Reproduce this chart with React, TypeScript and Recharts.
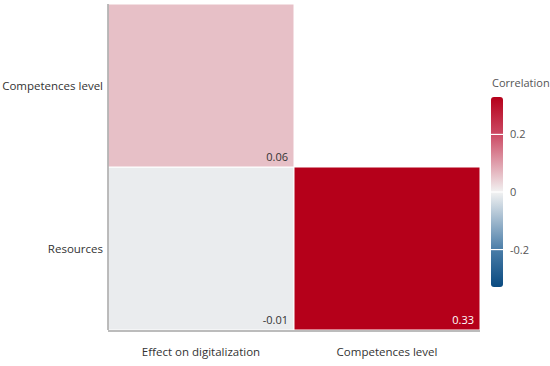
import React from 'react';
import { BarChart, Bar, XAxis, YAxis, Cell, LabelList } from 'recharts';

// Columns (x categories) and rows (y categories, bottom to top)
const columns = ['Effect on digitalization', 'Competences level'];
const rows = ['Resources', 'Competences level'];
// Correlation values for each row, by column (null = empty cell)
const resourcesCorr: (number | null)[] = [-0.01, 0.33];
const competencesCorr: (number | null)[] = [0.06, null];
// Colour bar
const colorDomain = [-0.33, 0.33];
const colorTicks = [0.2, 0, -0.2];
const colorStops: [number, string][] = [
  [-0.33, '#0a4a80'],
  [-0.2, '#4a7da8'],
  [0, '#f2f2f2'],
  [0.2, '#cc4a64'],
  [0.33, '#b5001a'],
];

const W = 550;
const H = 366;
const FONT = '"Open Sans", "Noto Sans", sans-serif';
const FS = 11.5;

function hexToRgb(h: string) {
  const n = parseInt(h.slice(1), 16);
  return [(n >> 16) & 255, (n >> 8) & 255, n & 255];
}
function colorFor(v: number) {
  if (v <= colorStops[0][0]) return colorStops[0][1];
  for (let i = 1; i < colorStops.length; i++) {
    const [v1, c1] = colorStops[i];
    const [v0, c0] = colorStops[i - 1];
    if (v <= v1) {
      const t = (v - v0) / (v1 - v0);
      const a = hexToRgb(c0);
      const b = hexToRgb(c1);
      const m = a.map((x, k) => Math.round(x + (b[k] - x) * t));
      return `rgb(${m[0]},${m[1]},${m[2]})`;
    }
  }
  return colorStops[colorStops.length - 1][1];
}

const data = columns.map((c, i) => ({
  name: c,
  resources: resourcesCorr[i] == null ? null : 1,
  competences: competencesCorr[i] == null ? null : 1,
  rCorr: resourcesCorr[i],
  cCorr: competencesCorr[i],
}));

const CellLabel = (props: any) => {
  const { x, y, width, height, value } = props;
  if (value == null) return null;
  return (
    <text
      x={x + width - 6}
      y={y + height - 6}
      textAnchor="end"
      fontSize={11}
      fontFamily={FONT}
      fill={value > 0.25 ? '#ffffff' : '#333333'}
    >
      {value.toFixed(2)}
    </text>
  );
};

const YTick = (props: any) => {
  const { x, y, payload } = props;
  return (
    <text x={x} y={y} dy="0.355em" textAnchor="end" fontSize={FS} fontFamily={FONT} fill="#333">
      {rows[Math.floor(payload.value)]}
    </text>
  );
};

// colour bar geometry
const cbX = 491;
const cbW = 12;
const cbTop = 97;
const cbBottom = 287;
const cbY = (v: number) =>
  cbTop + ((colorDomain[1] - v) / (colorDomain[1] - colorDomain[0])) * (cbBottom - cbTop);

export default function App() {
  return (
    <div style={{ position: 'absolute', left: 0, top: 0, width: W, height: H, background: '#fff' }}>
      <BarChart
        width={W}
        height={H}
        data={data}
        margin={{ top: 4, right: 70, bottom: 0, left: 0 }}
        barCategoryGap={0}
      >
        <XAxis
          xAxisId="cat"
          dataKey="name"
          axisLine={false}
          tickLine={false}
          tickSize={0}
          tickMargin={18}
          height={1}
          tick={{ fontSize: FS, fill: '#333', fontFamily: FONT }}
        />
        <XAxis
          xAxisId="grid"
          type="number"
          domain={[0, columns.length]}
          ticks={[0, 1, 2]}
          tick={false}
          tickSize={5}
          height={35}
          stroke="#a6a6a6"
          strokeWidth={1.5}
        />
        <YAxis
          type="number"
          domain={[0, rows.length]}
          ticks={[0.5, 1.5]}
          width={108}
          tickLine={false}
          tickSize={0}
          tickMargin={5}
          stroke="#a6a6a6"
          strokeWidth={1.5}
          tick={<YTick />}
        />
        <Bar xAxisId="cat" dataKey="resources" stackId="a" isAnimationActive={false} stroke="#fff" strokeWidth={1}>
          {data.map((d, i) => (
            <Cell key={i} fill={d.rCorr == null ? 'none' : colorFor(d.rCorr)} />
          ))}
          <LabelList dataKey="rCorr" content={CellLabel} />
        </Bar>
        <Bar xAxisId="cat" dataKey="competences" stackId="a" isAnimationActive={false} stroke="#fff" strokeWidth={1}>
          {data.map((d, i) => (
            <Cell key={i} fill={d.cCorr == null ? 'none' : colorFor(d.cCorr)} />
          ))}
          <LabelList dataKey="cCorr" content={CellLabel} />
        </Bar>
      </BarChart>
      <svg
        width={W}
        height={H}
        style={{ position: 'absolute', left: 0, top: 0, pointerEvents: 'none' }}
      >
        <defs>
          <linearGradient id="cbGrad" x1="0" y1="0" x2="0" y2="1">
            {[...colorStops].reverse().map(([v, c], i) => (
              <stop
                key={i}
                offset={(colorDomain[1] - v) / (colorDomain[1] - colorDomain[0])}
                stopColor={c}
              />
            ))}
          </linearGradient>
        </defs>
        <text x={cbX + 1} y={87} fontSize={11} fontFamily={FONT} fill="#555">
          Correlation
        </text>
        <rect x={cbX} y={cbTop} width={cbW} height={cbBottom - cbTop} rx={3} fill="url(#cbGrad)" />
        {colorTicks.map((t) => (
          <g key={t}>
            <line x1={cbX} x2={cbX + cbW} y1={cbY(t)} y2={cbY(t)} stroke="#fff" strokeWidth={1.2} />
            <text x={cbX + 19} y={cbY(t) + 4} fontSize={11} fontFamily={FONT} fill="#555">
              {t === 0 ? '0' : String(t)}
            </text>
          </g>
        ))}
      </svg>
    </div>
  );
}
